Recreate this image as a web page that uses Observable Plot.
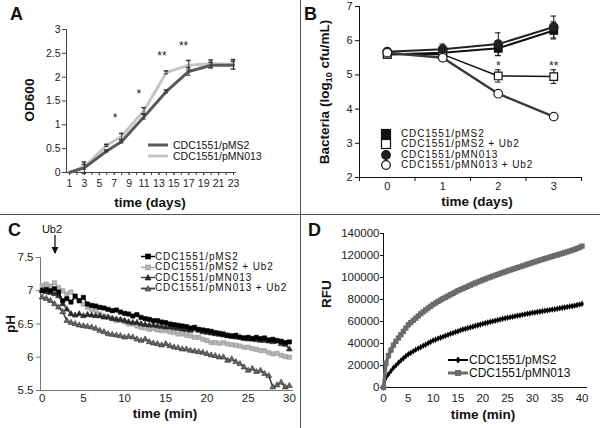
<!DOCTYPE html>
<html><head><meta charset="utf-8">
<script src="https://cdn.jsdelivr.net/npm/d3@7"></script>
<script src="https://cdn.jsdelivr.net/npm/@observablehq/plot@0.6"></script>
<style>
body{margin:0;background:#fff;}
#fig{position:relative;width:600px;height:428px;overflow:hidden;font-family:"Liberation Sans",Arial,sans-serif;color:#111;background:#fff;}
.panel{position:absolute;width:300px;height:214px;}
.t{position:absolute;white-space:nowrap;line-height:1;}
.lab{font-weight:bold;font-size:13.5px;}
.letter{font-weight:bold;font-size:18px;}
.rot{transform:translate(-50%,-50%) rotate(-90deg);}
.ctr{transform:translate(-50%,-50%);}
.row{position:absolute;display:flex;align-items:center;white-space:nowrap;height:12px;line-height:1;}
.row svg{display:block;}
.vdiv{position:absolute;left:300px;top:0;width:1px;height:428px;background:#555;}
.hdiv{position:absolute;left:0;top:214px;width:600px;height:1px;background:#555;}
</style></head>
<body><div id="fig"></div>
<script>
// ---------- Panel A data ----------
const daysA = [1, 3, 6, 8, 11, 14, 17, 20, 23];
const odMS2 = [0, 0.1, 0.45, 0.65, 1.17, 1.7, 2.12, 2.25, 2.25];
const odMN013 = [0, 0.12, 0.57, 0.76, 1.3, 2.1, 2.25, 2.28, 2.27];
const errMS2A = [0, 0.12, 0.02, 0.03, 0.05, 0.03, 0.08, 0.06, 0.08];
const errMN013A = [0, 0.05, 0.02, 0.06, 0.06, 0.03, 0.1, 0.08, 0.1];
const xLabelsA = [1, 3, 5, 7, 9, 11, 13, 15, 17, 19, 21, 23];
const xMinorA = [1,2,3,4,5,6,7,8,9,10,11,12,13,14,15,16,17,18,19,20,21,22,23];
const yTicksA = [0, 0.5, 1, 1.5, 2, 2.5, 3];
const starsA = [{x: 7.1, y: 1.13, s: "*"}, {x: 10.3, y: 1.65, s: "*"}, {x: 13.4, y: 2.44, s: "**"}, {x: 16.3, y: 2.65, s: "**"}];

// ---------- Panel B data ----------
const daysB = [0, 1, 2, 3];
const bMS2 = [5.6, 5.65, 5.78, 6.3];
const bMS2Ub2 = [5.6, 5.6, 4.97, 4.95];
const bMN013 = [5.68, 5.75, 5.9, 6.4];
const bMN013Ub2 = [5.65, 5.5, 4.45, 3.78];
const eMS2 = [0.05, 0.1, 0.22, 0.25];
const eMS2Ub2 = [0.05, 0.08, 0.18, 0.2];
const eMN013 = [0.05, 0.15, 0.33, 0.32];
const eMN013Ub2 = [0.03, 0.06, 0.05, 0.04];
const yTicksB = [2, 3, 4, 5, 6, 7];
const starsB = [{x: 2, y: 5.27, s: "*"}, {x: 3, y: 5.27, s: "**"}];

// ---------- Panel C data ----------
const tC = [0,0.5,1,1.5,2,2.5,3,3.5,4,4.5,5,5.5,6,6.5,7,7.5,8,8.5,9,9.5,10,10.5,11,11.5,12,12.5,13,13.5,14,14.5,15,15.5,16,16.5,17,17.5,18,18.5,19,19.5,20,20.5,21,21.5,22,22.5,23,23.5,24,24.5,25,25.5,26,26.5,27,27.5,28,28.5,29,29.5,30];
const phMS2 = [7.00,7.02,7.00,7.03,6.98,6.85,6.88,6.83,6.92,6.85,6.90,6.80,6.78,6.77,6.75,6.74,6.72,6.70,6.71,6.68,6.66,6.65,6.62,6.64,6.60,6.58,6.57,6.55,6.55,6.53,6.52,6.50,6.49,6.48,6.47,6.46,6.44,6.45,6.42,6.41,6.40,6.39,6.37,6.36,6.35,6.33,6.32,6.33,6.30,6.29,6.30,6.28,6.30,6.28,6.29,6.26,6.27,6.25,6.24,6.22,6.23];
const phMS2Ub2 = [7.08,7.10,7.07,7.12,7.05,7.00,6.95,6.98,6.90,6.85,6.80,6.75,6.72,6.70,6.65,6.62,6.60,6.58,6.55,6.56,6.53,6.50,6.50,6.47,6.45,6.44,6.42,6.43,6.41,6.40,6.40,6.38,6.37,6.35,6.35,6.33,6.32,6.30,6.30,6.27,6.25,6.22,6.22,6.21,6.22,6.20,6.19,6.18,6.17,6.15,6.15,6.13,6.12,6.10,6.10,6.07,6.05,6.06,6.03,6.01,6.00];
const phMN013 = [7.00,6.98,6.97,6.95,6.92,6.80,6.72,6.65,6.63,6.65,6.62,6.64,6.63,6.62,6.62,6.60,6.60,6.58,6.57,6.56,6.55,6.53,6.52,6.52,6.50,6.49,6.48,6.48,6.47,6.46,6.45,6.45,6.44,6.43,6.42,6.41,6.40,6.42,6.40,6.38,6.37,6.36,6.35,6.34,6.33,6.32,6.31,6.30,6.30,6.28,6.27,6.27,6.26,6.25,6.25,6.24,6.23,6.24,6.20,6.19,6.12];
const phMN013Ub2 = [6.90,6.88,6.85,6.80,6.75,6.68,6.55,6.52,6.50,6.48,6.47,6.46,6.45,6.43,6.40,6.38,6.35,6.34,6.33,6.32,6.30,6.31,6.30,6.27,6.25,6.27,6.23,6.21,6.20,6.18,6.20,6.17,6.15,6.14,6.12,6.12,6.10,6.09,6.08,6.07,6.05,6.03,6.02,6.00,6.00,5.95,5.97,5.93,5.90,5.85,5.80,5.83,5.78,5.80,5.75,5.72,5.55,5.58,5.62,5.55,5.57];
const xTicksC = [0, 5, 10, 15, 20, 25, 30];
const yTicksC = [5.5, 6, 6.5, 7, 7.5];

// ---------- Panel D data ----------
const tD = [0,0.5,1,1.5,2,2.5,3,3.5,4,4.5,5,5.5,6,6.5,7,7.5,8,8.5,9,9.5,10,10.5,11,11.5,12,12.5,13,13.5,14,14.5,15,15.5,16,16.5,17,17.5,18,18.5,19,19.5,20,20.5,21,21.5,22,22.5,23,23.5,24,24.5,25,25.5,26,26.5,27,27.5,28,28.5,29,29.5,30,30.5,31,31.5,32,32.5,33,33.5,34,34.5,35,35.5,36,36.5,37,37.5,38,38.5,39,39.5,40];
const rfuMS2 = [0,9000,12000,15000,18000,20000,22500,24500,26500,28500,30300,31500,33000,34300,35500,36700,38000,39000,40300,41500,42800,43500,44500,45300,46200,47000,48000,48800,49500,50500,51200,52000,52800,53300,54000,54700,55300,56000,56700,57200,57900,58500,59000,59700,60200,60700,61300,61800,62400,62900,63400,63800,64300,64800,65200,65700,66100,66600,67000,67400,67900,68200,68600,69000,69400,69800,70100,70500,70900,71200,71600,72000,72400,72800,73200,73600,74000,74400,74900,75400,76000];
const rfuMN013 = [0,22000,29000,34000,38500,42000,45000,48000,51000,54000,57000,59000,61000,63000,65000,67000,68800,70500,72200,73800,75500,76800,78200,79500,80800,82000,83200,84400,85600,86800,88000,89000,90000,91000,92000,93000,94000,95000,95900,96800,97700,98600,99500,100300,101200,102000,102800,103600,104400,105200,106000,106700,107500,108200,109000,109700,110500,111200,112000,112700,113500,114200,115000,115700,116400,117100,117800,118500,119200,119900,120500,121200,121900,122600,123300,124000,124800,125600,126400,127300,128500];
const xTicksD = [0, 5, 10, 15, 20, 25, 30, 35, 40];
const yTicksD = [0, 20000, 40000, 60000, 80000, 100000, 120000, 140000];

// ---------- helpers ----------
const FONT = '"Liberation Sans", Arial, sans-serif';
const fig = document.getElementById("fig");
function place(node, left, top) {
  const d = document.createElement("div");
  d.className = "panel"; d.style.left = left + "px"; d.style.top = top + "px";
  d.appendChild(node); fig.appendChild(d);
}
function text(html, cls, x, y, extra) {
  const d = document.createElement("div");
  d.className = "t " + cls; d.innerHTML = html;
  d.style.left = x + "px"; d.style.top = y + "px";
  if (extra) Object.assign(d.style, extra);
  fig.appendChild(d);
}
function legendRow(svg, label, x, yc, fs, ls) {
  const d = document.createElement("div");
  d.className = "row"; d.style.left = x + "px"; d.style.top = (yc - 6) + "px";
  d.style.fontSize = fs + "px";
  if (ls) d.style.letterSpacing = ls + "px";
  d.innerHTML = svg + "<span>" + label + "</span>";
  fig.appendChild(d);
}
const zip = (xs, ys, es) => xs.map((x, i) => ({x, y: ys[i], e: es ? es[i] : 0}));

// ---------- Panel A ----------
const seriesA = [
  {name: "CDC1551/pMN013", rows: zip(daysA, odMN013, errMN013A), color: "#c6c6c6"},
  {name: "CDC1551/pMS2", rows: zip(daysA, odMS2, errMS2A), color: "#5a5a5a"}
];
const marksA = [
  Plot.axisX({ticks: xMinorA, tickSize: 3, tickFormat: () => "", label: null, stroke: "#444"}),
  Plot.axisX({ticks: xLabelsA, tickSize: 3, tickPadding: 4, label: null, stroke: "#444", fill: "#222"}),
  Plot.axisY({ticks: yTicksA, tickSize: 4, tickPadding: 2, label: null, tickFormat: d => String(d), stroke: "#444", fill: "#222"}),
  Plot.ruleY([0], {stroke: "#444"}),
  Plot.ruleX([0.6], {stroke: "#444"})
];
for (const s of seriesA) {
  const eb = s.rows.filter(r => r.e > 0);
  marksA.push(Plot.line(s.rows, {x: "x", y: "y", stroke: s.color, strokeWidth: 3}));
  marksA.push(Plot.ruleX(eb, {x: "x", y1: d => d.y - d.e, y2: d => d.y + d.e, stroke: "#333", strokeWidth: 1}));
  marksA.push(Plot.ruleY(eb, {y: d => d.y + d.e, x1: d => d.x - 0.3, x2: d => d.x + 0.3, stroke: "#333", strokeWidth: 1.5}));
  marksA.push(Plot.ruleY(eb, {y: d => d.y - d.e, x1: d => d.x - 0.3, x2: d => d.x + 0.3, stroke: "#333", strokeWidth: 1}));
}
marksA.push(Plot.text(starsA, {x: "x", y: "y", text: "s", fontSize: 12, fill: "#222"}));
place(Plot.plot({
  width: 300, height: 214, marginLeft: 66, marginRight: 64, marginTop: 29, marginBottom: 42,
  x: {domain: [0.6, 23.4]}, y: {domain: [0, 3]},
  style: {fontFamily: FONT, fontSize: "10.5px", background: "transparent", overflow: "visible"},
  marks: marksA
}), 0, 0);
text("A", "letter", 10, 5);
text("OD600", "lab rot", 30, 100);
text("time (days)", "lab ctr", 150, 203);
const lineSw = c => `<svg width="22" height="8" style="margin-right:3px"><line x1="0" x2="20" y1="4" y2="4" stroke="${c}" stroke-width="3"/></svg>`;
legendRow(lineSw("#5a5a5a"), "CDC1551/pMS2", 148, 145, 10.5);
legendRow(lineSw("#c6c6c6"), "CDC1551/pMN013", 148, 156, 10.5);

// ---------- Panel B ----------
const seriesB = [
  {name: "CDC1551/pMS2", rows: zip(daysB, bMS2, eMS2), symbol: "square", fill: "#111", stroke: "#111", line: "#111", lw: 2},
  {name: "CDC1551/pMS2 + Ub2", rows: zip(daysB, bMS2Ub2, eMS2Ub2), symbol: "square", fill: "#fff", stroke: "#111", line: "#111", lw: 1.5},
  {name: "CDC1551/pMN013", rows: zip(daysB, bMN013, eMN013), symbol: "circle", fill: "#222", stroke: "#222", line: "#222", lw: 2},
  {name: "CDC1551/pMN013 + Ub2", rows: zip(daysB, bMN013Ub2, eMN013Ub2), symbol: "circle", fill: "#fff", stroke: "#222", line: "#3a3a3a", lw: 2.5}
];
const marksB = [
  Plot.axisX({ticks: [-0.5, 0.5, 1.5, 2.5, 3.5], tickSize: 4, tickFormat: () => "", label: null}),
  Plot.axisX({ticks: daysB, tickSize: 0, tickPadding: 5, label: null, fill: "#222", tickFormat: d => String(d)}),
  Plot.axisY({ticks: yTicksB, tickSize: 4, tickPadding: 3, label: null, fill: "#222", tickFormat: d => String(d)}),
  Plot.ruleY([2], {stroke: "#111"}),
  Plot.ruleX([-0.5], {stroke: "#111"})
];
for (const s of seriesB) marksB.push(Plot.line(s.rows, {x: "x", y: "y", stroke: s.line, strokeWidth: s.lw}));
for (const s of seriesB) {
  marksB.push(Plot.ruleX(s.rows, {x: "x", y1: d => d.y - d.e, y2: d => d.y + d.e, stroke: "#111"}));
  marksB.push(Plot.ruleY(s.rows, {y: d => d.y + d.e, x1: d => d.x - 0.05, x2: d => d.x + 0.05, stroke: "#111"}));
  marksB.push(Plot.ruleY(s.rows, {y: d => d.y - d.e, x1: d => d.x - 0.05, x2: d => d.x + 0.05, stroke: "#111"}));
}
for (const s of seriesB) marksB.push(Plot.dot(s.rows, {x: "x", y: "y", symbol: s.symbol, r: 4.3, fill: s.fill, stroke: s.stroke, strokeWidth: 1.2}));
marksB.push(Plot.text(starsB, {x: "x", y: "y", text: "s", fontSize: 12, fill: "#222"}));
place(Plot.plot({
  width: 300, height: 214, marginLeft: 59, marginRight: 19, marginTop: 6, marginBottom: 37,
  x: {domain: [-0.5, 3.5]}, y: {domain: [2, 7]},
  style: {fontFamily: FONT, fontSize: "11px", background: "transparent", overflow: "visible"},
  marks: marksB
}), 300, 0);
text("B", "letter", 304, 5);
text("Bacteria (log<sub style='font-size:9px'>10</sub> cfu/mL)", "lab rot", 326, 92);
text("time (days)", "lab ctr", 477, 202);
const symSw = (sym, fill) => sym === "square"
  ? `<svg width="12" height="12" style="margin-right:9px"><rect x="1.5" y="1.5" width="9" height="9" fill="${fill}" stroke="#111" stroke-width="1.2"/></svg>`
  : `<svg width="12" height="12" style="margin-right:9px"><circle cx="6" cy="6" r="4.3" fill="${fill}" stroke="#111" stroke-width="1.2"/></svg>`;
seriesB.forEach((s, i) => legendRow(symSw(s.symbol, s.fill), s.name, 380, [134.3, 144.3, 154.5, 164.8][i], 10, 0.9));

// ---------- Panel C ----------
const seriesC = [
  {name: "CDC1551/pMS2 + Ub2", rows: zip(tC, phMS2Ub2), line: "#a8a8a8", lw: 1.2, symbol: "square", r: 2.4, fill: "#b4b4b4", stroke: "#999"},
  {name: "CDC1551/pMN013", rows: zip(tC, phMN013), line: "#444", lw: 1.2, symbol: "triangle", r: 2.2, fill: "#2a2a2a", stroke: "#2a2a2a"},
  {name: "CDC1551/pMN013 + Ub2", rows: zip(tC, phMN013Ub2), line: "#3c3c3c", lw: 1.5, symbol: "triangle", r: 2.2, fill: "#666", stroke: "#333"},
  {name: "CDC1551/pMS2", rows: zip(tC, phMS2), line: "#000", lw: 1.2, symbol: "square", r: 2.4, fill: "#000", stroke: "#000"}
];
const marksC = [
  Plot.axisX({ticks: xTicksC, tickSize: 0, tickPadding: 3, label: null, fill: "#222"}),
  Plot.axisY({ticks: yTicksC, tickSize: 4, tickPadding: 3, label: null, tickFormat: d => String(d), stroke: "#777", fill: "#222"}),
  Plot.ruleY([5.5], {stroke: "#777"}),
  Plot.ruleX([-0.2], {stroke: "#777"})
];
for (const s of seriesC) {
  marksC.push(Plot.line(s.rows, {x: "x", y: "y", stroke: s.line, strokeWidth: s.lw}));
  marksC.push(Plot.dot(s.rows, {x: "x", y: "y", symbol: s.symbol, r: s.r, fill: s.fill, stroke: s.stroke, strokeWidth: 0.6}));
}
place(Plot.plot({
  width: 300, height: 214, marginLeft: 40, marginRight: 7, marginTop: 43, marginBottom: 38,
  x: {domain: [-0.2, 30.5]}, y: {domain: [5.5, 7.5]},
  style: {fontFamily: FONT, fontSize: "11.5px", background: "transparent", overflow: "visible"},
  marks: marksC
}), 0, 214);
text("C", "letter", 8, 221);
text("Ub2", "ctr", 52, 229, {fontSize: "11px"});
text(`<svg width="10" height="20"><line x1="5" y1="0" x2="5" y2="18" stroke="#111" stroke-width="1.3"/><path d="M1.5,12 L5,19 L8.5,12 Z" fill="#111"/></svg>`, "", 50, 235);
text("pH", "lab rot", 11, 324);
text("time (min)", "lab ctr", 165, 414);
const cLegend = [seriesC[3], seriesC[0], seriesC[1], seriesC[2]];
const cSw = s => {
  const mk = s.symbol === "square"
    ? `<rect x="4.5" y="3" width="5" height="5" fill="${s.fill}" stroke="${s.stroke}" stroke-width="0.6"/>`
    : `<path d="M7,2.5 L10,8 L4,8 Z" fill="${s.fill}" stroke="${s.stroke}" stroke-width="0.6"/>`;
  return `<svg width="14" height="11" style="margin-right:0px"><line x1="0" x2="14" y1="5.5" y2="5.5" stroke="${s.line}" stroke-width="${s.lw + 0.3}"/>${mk}</svg>`;
};
cLegend.forEach((s, i) => legendRow(cSw(s), s.name, 141, [256.7, 267.3, 277.5, 288][i], 10, 0.9));

// ---------- Panel D ----------
const seriesD = [
  {name: "CDC1551/pMS2", rows: zip(tD, rfuMS2), line: "#000", lw: 2, symbol: "diamond", r: 2, fill: "#000"},
  {name: "CDC1551/pMN013", rows: zip(tD, rfuMN013), line: "#6b6b6b", lw: 3.5, symbol: "square", r: 3, fill: "#6b6b6b"}
];
const marksD = [
  Plot.axisX({ticks: xTicksD, tickSize: 0, tickPadding: 6, label: null, fill: "#222"}),
  Plot.axisY({ticks: yTicksD, tickSize: 3, tickPadding: 1, label: null, tickFormat: d => String(d), fill: "#222"}),
  Plot.ruleY([0], {stroke: "#111"}),
  Plot.ruleX([0], {stroke: "#111"})
];
for (const s of seriesD) {
  marksD.push(Plot.line(s.rows, {x: "x", y: "y", stroke: s.line, strokeWidth: s.lw}));
  marksD.push(Plot.dot(s.rows, {x: "x", y: "y", symbol: s.symbol, r: s.r, fill: s.fill}));
}
place(Plot.plot({
  width: 300, height: 214, marginLeft: 83, marginRight: 13, marginTop: 19, marginBottom: 41,
  x: {domain: [0, 41.1]}, y: {domain: [0, 140000]},
  style: {fontFamily: FONT, fontSize: "11.5px", background: "transparent", overflow: "visible"},
  marks: marksD
}), 300, 214);
text("D", "letter", 308, 221);
text("RFU", "lab rot", 327, 294);
text("time (min)", "lab ctr", 483, 415);
const dSw = s => {
  const mk = s.symbol === "square"
    ? `<rect x="7" y="3" width="6" height="6" fill="${s.fill}"/>`
    : `<path d="M10,2.5 L12.5,6 L10,9.5 L7.5,6 Z" fill="${s.fill}"/>`;
  return `<svg width="20" height="12" style="margin-right:1px"><line x1="0" x2="20" y1="6" y2="6" stroke="${s.line}" stroke-width="${Math.min(s.lw, 3)}"/>${mk}</svg>`;
};
seriesD.forEach((s, i) => legendRow(dSw(s), s.name, 448, [359.7, 373.3][i], 12));

// dividers
const v = document.createElement("div"); v.className = "vdiv"; fig.appendChild(v);
const h = document.createElement("div"); h.className = "hdiv"; fig.appendChild(h);
</script>
</body></html>
